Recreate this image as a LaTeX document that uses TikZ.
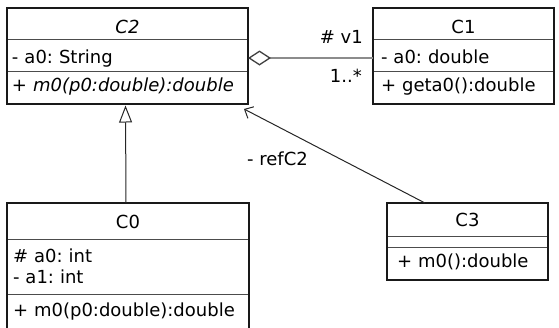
\documentclass[tikz,border=0pt]{standalone}
\usepackage{fontspec}
\setmainfont{DejaVu Sans}
\frenchspacing
\usetikzlibrary{positioning,arrows.meta}
\tikzstyle{classbase} = [draw=black!70, line width=1pt, rectangle, outer sep=0pt,
    inner xsep=5pt, inner ysep=0pt, font=\fontsize{18}{21}\selectfont]
\tikzstyle{classtitle} = [classbase, align=center, text height=19pt, text depth=0pt]
\tikzstyle{classattr} = [classbase, align=left, text height=16pt, text depth=0pt]
\tikzstyle{classop} = [classbase, align=left, text height=13pt, text depth=5pt]
\tikzstyle{classlist} = [classbase, align=left]
\tikzstyle{classframe} = [draw=black!90, line width=2.5pt]
\tikzstyle{aggregation} = [draw=black!45, line width=1.3pt,
    -{Diamond[open, length=23pt, width=15pt, color=black!75]}]
\tikzstyle{generalization} = [draw=black!85, line width=1pt,
    -{Triangle[open, length=17pt, width=13pt]}]
\tikzstyle{reference} = [draw=black!85, line width=1pt,
    -{Straight Barb[length=7pt, width=13pt]}]
\tikzstyle{rolelabel} = [inner sep=0pt, font=\fontsize{18}{21}\selectfont]

\begin{document}
\begin{tikzpicture}[x=1pt, y=-1pt]
    \useasboundingbox (0,0) rectangle (559,327);
    % C2
    \node[classtitle, text width=231pt, minimum height=31pt, anchor=north west] (c2h) at (7,8) {\itshape C2};
    \node[classattr, text width=231pt, minimum height=32pt, below=0pt of c2h] (c2a) {- a0: String};
    \node[classop, text width=231pt, minimum height=33pt, below=0pt of c2a] (c2m) {\itshape + m0(p0:double):double};
    \draw[classframe] (c2h.north west) rectangle (c2m.south east);
    % C1
    \node[classtitle, text width=171pt, minimum height=31pt, inner xsep=5pt, anchor=north west] (c1h) at (373,8) {C1};
    \node[classattr, text width=165pt, minimum height=32pt, inner xsep=8pt, below=0pt of c1h] (c1a) {- a0: double};
    \node[classop, text width=165pt, minimum height=33pt, inner xsep=8pt, below=0pt of c1a] (c1m) {+ geta0():double};
    \draw[classframe] (c1h.north west) rectangle (c1m.south east);
    % C0
    \node[classtitle, text width=230pt, minimum height=36pt, inner xsep=6pt, text height=14pt, anchor=north west] (c0h) at (7,203) {C0};
    \node[classlist, text width=230pt, minimum height=55pt, inner xsep=6pt, below=0pt of c0h] (c0a) {\# a0: int\\- a1: int};
    \node[classop, text width=230pt, minimum height=37pt, inner xsep=6pt, below=0pt of c0a] (c0m) {+ m0(p0:double):double};
    \draw[classframe] (c0h.north west) rectangle (c0m.south east);
    % C3
    \node[classtitle, text width=141pt, minimum height=33pt, inner xsep=10pt, text height=13pt, anchor=north west] (c3h) at (387,203) {C3};
    \node[classattr, text width=141pt, minimum height=11pt, inner xsep=10pt, text height=0pt, below=0pt of c3h] (c3a) {};
    \node[classop, text width=141pt, minimum height=33pt, inner xsep=10pt, below=0pt of c3a] (c3m) {+ m0():double};
    \draw[classframe] (c3h.north west) rectangle (c3m.south east);

    % relations
    \draw[aggregation] ([yshift=-3pt]c1a.west) -- ([yshift=-3pt]c2a.east);
    \node[rolelabel, anchor=base east] (v1) at ([xshift=-10pt,yshift=11.5pt]c1a.west) {\# v1};
    \node[rolelabel, anchor=base east] (mult) at ([xshift=-11pt,yshift=-27pt]c1a.west) {1..*};
    \draw[generalization] ([xshift=-2pt]c0h.north) -- ([xshift=-2pt,yshift=-1.5pt]c2m.south);
    \draw[reference] ([xshift=38pt]c3h.north west) -- ([xshift=-4pt,yshift=-5pt]c2m.south east);
    \node[rolelabel, anchor=base west] (refc2) at ([xshift=-1pt,yshift=-61pt]c2m.south east) {- refC2};
\end{tikzpicture}
\end{document}
